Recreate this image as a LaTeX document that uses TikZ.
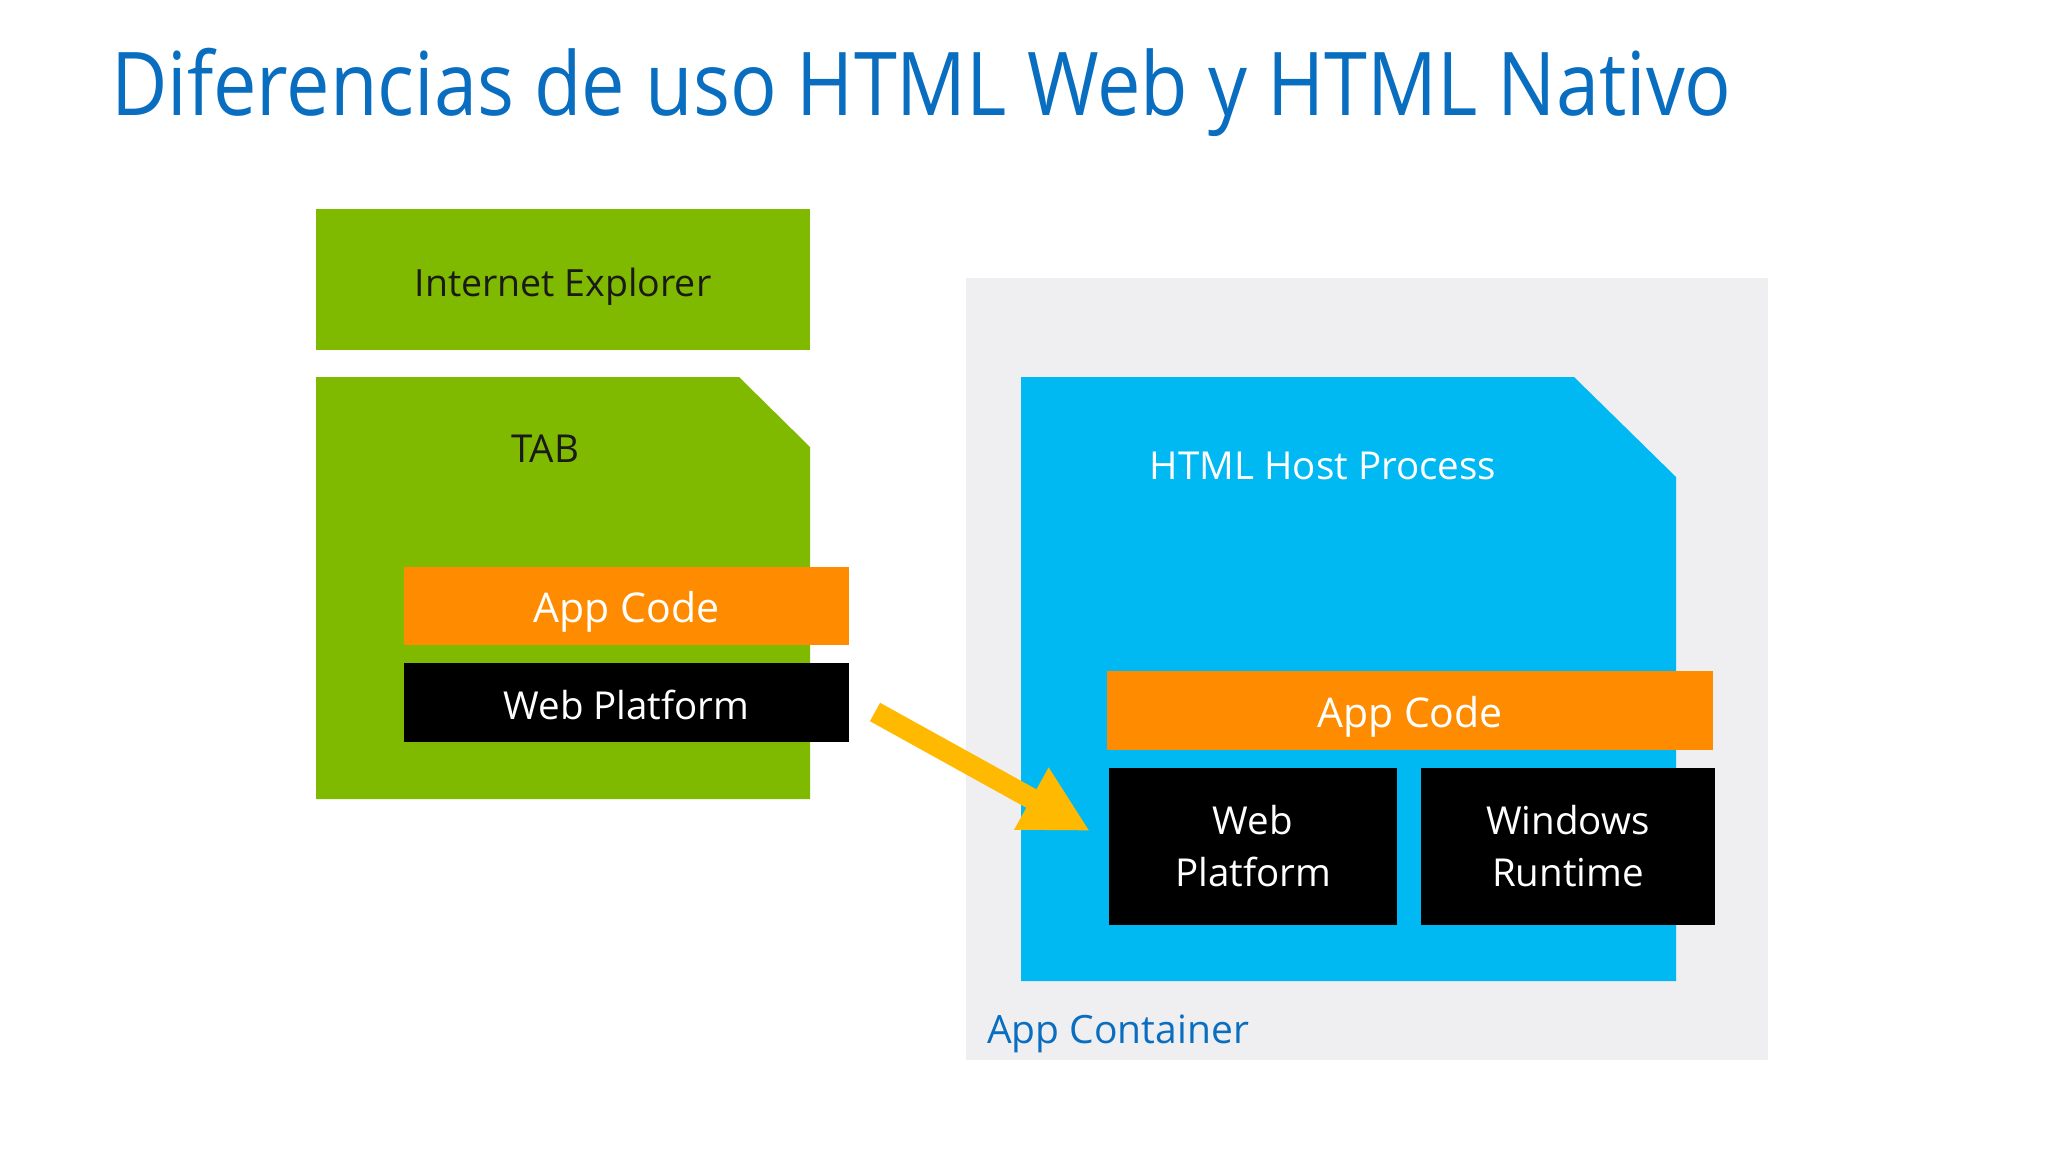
\documentclass[tikz,border=0pt]{standalone}
\usepackage{fontspec}
\setmainfont{Open Sans}
\newfontfamily\titlefont[FakeStretch=0.88]{Open Sans}
\usetikzlibrary{arrows.meta}
\definecolor{msgreen}{HTML}{7FBA00}
\definecolor{msorange}{HTML}{FF8C00}
\definecolor{msblue}{HTML}{00B9F2}
\definecolor{contgray}{HTML}{EFEEF0}
\definecolor{titleblue}{HTML}{0A6EC0}
\definecolor{arrowyellow}{HTML}{FFB900}
\definecolor{darktext}{HTML}{1A1A1A}
\begin{document}
\begin{tikzpicture}[x=1pt,y=-1pt,
  blk/.style={anchor=north west, inner sep=0pt, outer sep=0pt, align=center,
    font=\fontsize{38.5}{52}\selectfont},
  onel/.style={text height=33pt, text depth=0pt},
  lbl/.style={inner sep=0pt, outer sep=0pt, font=\fontsize{38.5}{52}\selectfont},
]
\useasboundingbox (0,0) rectangle (2048,1152);
\fill[white] (0,0) rectangle (2048,1152);
\node[anchor=base west, text=titleblue, inner sep=0pt, font=\titlefont\fontsize{88}{100}\selectfont] (title) at (111,115) {Diferencias de uso HTML Web y HTML Nativo};

% left side
\node[blk, onel, fill=msgreen, text=darktext, font=\fontsize{37.5}{52}\selectfont, minimum width=494pt, minimum height=141pt] (ie) at (316,209) {Internet Explorer};
\fill[msgreen] (316,377) -- (739,377) -- (810,447) -- (810,799) -- (316,799) -- cycle;
\node[lbl, text=darktext] (tab) at (545,449) {TAB};
\node[blk, onel, fill=msorange, text=white, font=\fontsize{41}{52}\selectfont, minimum width=445pt, minimum height=78pt] (appl) at (404,567) {App Code};
\node[blk, onel, fill=black, text=white, minimum width=445pt, minimum height=79pt] (webl) at (404,663) {Web Platform};

% right side
\fill[contgray] (966,278) rectangle (1768,1060);
\fill[msblue] (1021,377) -- (1574,377) -- (1676,477) -- (1676,981) -- (1021,981) -- cycle;
\node[lbl, text=white] (host) at (1323,466) {HTML Host Process};
\node[blk, onel, fill=msorange, text=white, font=\fontsize{41}{52}\selectfont, minimum width=606pt, minimum height=79pt] (appr) at (1107,671) {App Code};
\node[blk, fill=black, text=white, minimum width=288pt, minimum height=157pt] (webr) at (1109,768) {Web\\Platform};
\node[blk, fill=black, text=white, minimum width=294pt, minimum height=157pt] (winrt) at (1421,768) {Windows\\Runtime};
\node[anchor=west, inner sep=0pt, text=titleblue, font=\fontsize{39}{52}\selectfont] (cont) at (987,1034) {App Container};

% arrow
\coordinate (atail) at (875,712);
\coordinate (ahead) at (1090,831);
\draw[arrowyellow, line width=21pt, -{Triangle[length=67pt,width=66pt]}] (atail) -- (ahead);
\end{tikzpicture}
\end{document}
